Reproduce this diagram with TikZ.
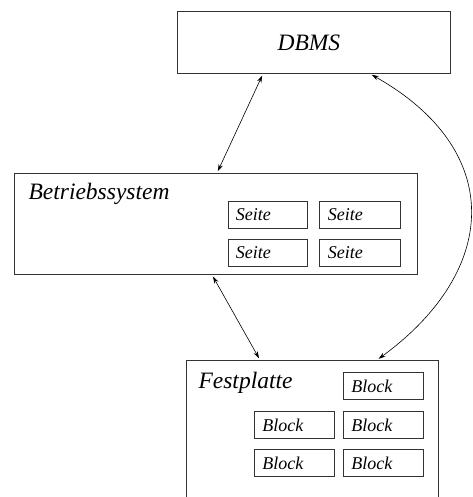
\documentclass[tikz,border=0pt]{standalone}
\usepackage{fontspec}
\setmainfont{Liberation Serif}
\usetikzlibrary{arrows.meta}
\begin{document}
\begin{tikzpicture}[x=1pt,y=-1pt,
  box/.style={draw=black!80, line width=0.8pt, rectangle, inner sep=0pt, anchor=north west},
  big/.style={font=\fontsize{23.5}{25}\selectfont\itshape},
  small/.style={font=\fontsize{18}{20}\selectfont\itshape},
  cell/.style={box, minimum width=80pt, minimum height=27pt, small, text width=64pt, align=left},
  conn/.style={line width=0.6pt, {Stealth[length=7pt,width=4.5pt]}-{Stealth[length=7pt,width=4.5pt]}, shorten <=2pt, shorten >=2pt}]
\clip (0,0) rectangle (472,497);
\node[box, minimum width=273pt, minimum height=62pt, big] (dbms) at (177,11) {};
\node[big] (dbmslabel) at ([xshift=-5pt]dbms.center) {DBMS};
\node[box, minimum width=403pt, minimum height=101pt] (bs) at (14,173) {};
\node[big, anchor=west] (bslabel) at (25,194) {Betriebssystem};
\node[cell, minimum width=79pt] (s1) at (228,201) {Seite};
\node[cell, minimum width=81pt] (s2) at (319,201) {Seite};
\node[cell, minimum width=79pt] (s3) at (228,239) {Seite};
\node[cell, minimum width=81pt] (s4) at (319,239) {Seite};
\node[box, minimum width=252pt, minimum height=160pt] (fp) at (186,360) {};
\node[big, anchor=west] (fplabel) at (195,383) {Festplatte};
\node[cell] (b1) at (343,372) {Block};
\node[cell] (b2) at (254,411) {Block};
\node[cell] (b3) at (343,411) {Block};
\node[cell] (b4) at (254,449) {Block};
\node[cell] (b5) at (343,449) {Block};
\draw[conn] ([xshift=86pt]dbms.south west) -- ([xshift=203pt]bs.north west);
\draw[conn] ([xshift=198pt]bs.south west) -- ([xshift=74pt]fp.north west);
\draw[conn] ([xshift=193pt]dbms.south west) .. controls (505,150) and (500,270) .. ([xshift=191pt]fp.north west);
\end{tikzpicture}
\end{document}
